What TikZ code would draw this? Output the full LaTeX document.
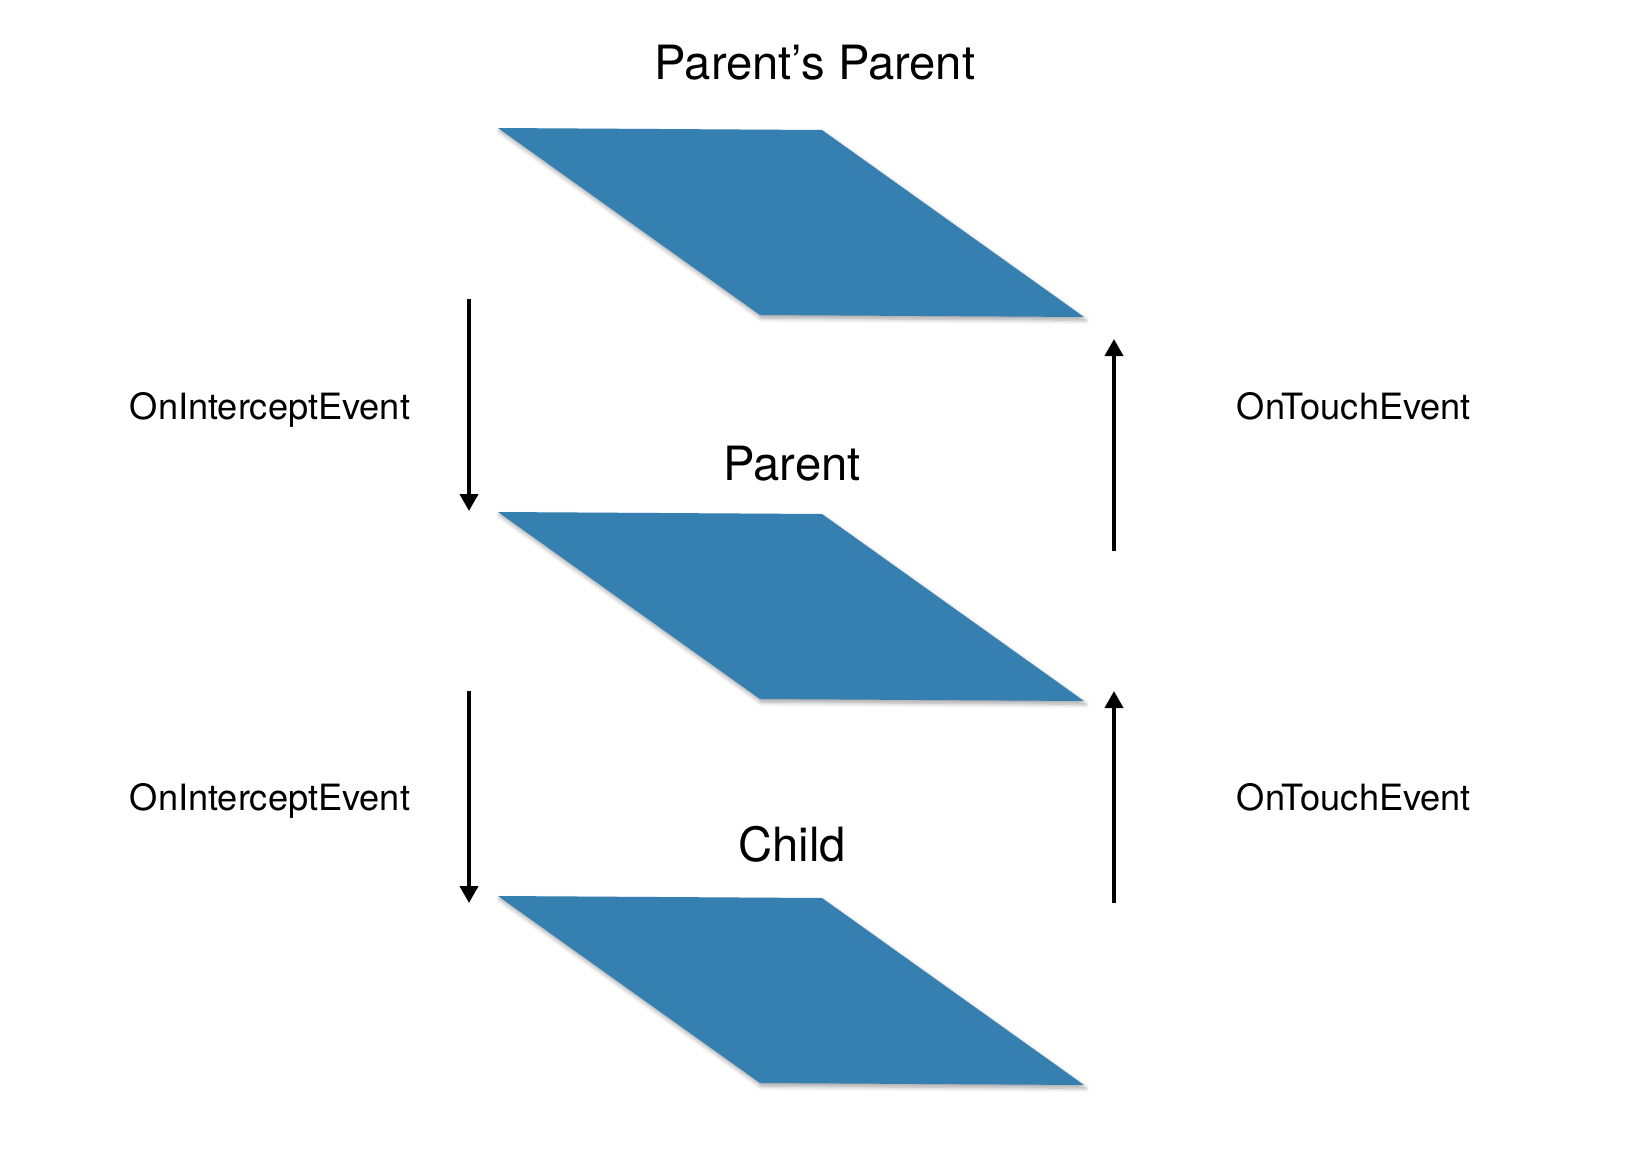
\documentclass[tikz,border=0pt]{standalone}
\usepackage{fontspec}
\setmainfont{TeX Gyre Heros}
\usepackage{xcolor}
\usepackage{tikz}
\usetikzlibrary{arrows.meta,shadows.blur}

\definecolor{sheetblue}{RGB}{54,127,177}

\begin{document}
\begin{tikzpicture}[x=0.5pt,y=-0.5pt,>={Triangle[length=8.5pt,width=9pt]},
  sheet/.style={fill=sheetblue,blur shadow={shadow xshift=0.8pt,shadow yshift=-1.6pt,shadow opacity=35,shadow blur steps=6}},
  flow/.style={->,line width=2pt,black},
  title/.style={anchor=base,font=\fontsize{23.6}{28}\selectfont},
  event/.style={anchor=base,font=\fontsize{18.1}{22}\selectfont}]
  \useasboundingbox (0,0) rectangle (1646,1174);
  % the three views, top to bottom
  \fill[sheet] (498,128) -- (822,130) -- (1084,317) -- (760,315) -- cycle;
  \fill[sheet] (498,512) -- (822,514) -- (1084,701) -- (760,699) -- cycle;
  \fill[sheet] (498,896) -- (822,898) -- (1084,1085) -- (760,1083) -- cycle;
  \node[title] (pp) at (815,79) {Parent’s Parent};
  \node[title] (par) at (792,480) {Parent};
  \node[title] (chi) at (792,861) {Child};
  % intercept goes down
  \coordinate (dn1a) at (469,299);
  \coordinate (dn1b) at (469,511);
  \coordinate (dn2a) at (469,691);
  \coordinate (dn2b) at (469,903);
  \draw[flow] (dn1a) -- (dn1b);
  \draw[flow] (dn2a) -- (dn2b);
  \node[event] (int1) at (270,419) {OnInterceptEvent};
  \node[event] (int2) at (270,810) {OnInterceptEvent};
  % touch goes back up
  \coordinate (up1a) at (1114,551);
  \coordinate (up1b) at (1114,339);
  \coordinate (up2a) at (1114,903);
  \coordinate (up2b) at (1114,691);
  \draw[flow] (up1a) -- (up1b);
  \draw[flow] (up2a) -- (up2b);
  \node[event] (tch1) at (1354,419) {OnTouchEvent};
  \node[event] (tch2) at (1354,810) {OnTouchEvent};
\end{tikzpicture}
\end{document}
